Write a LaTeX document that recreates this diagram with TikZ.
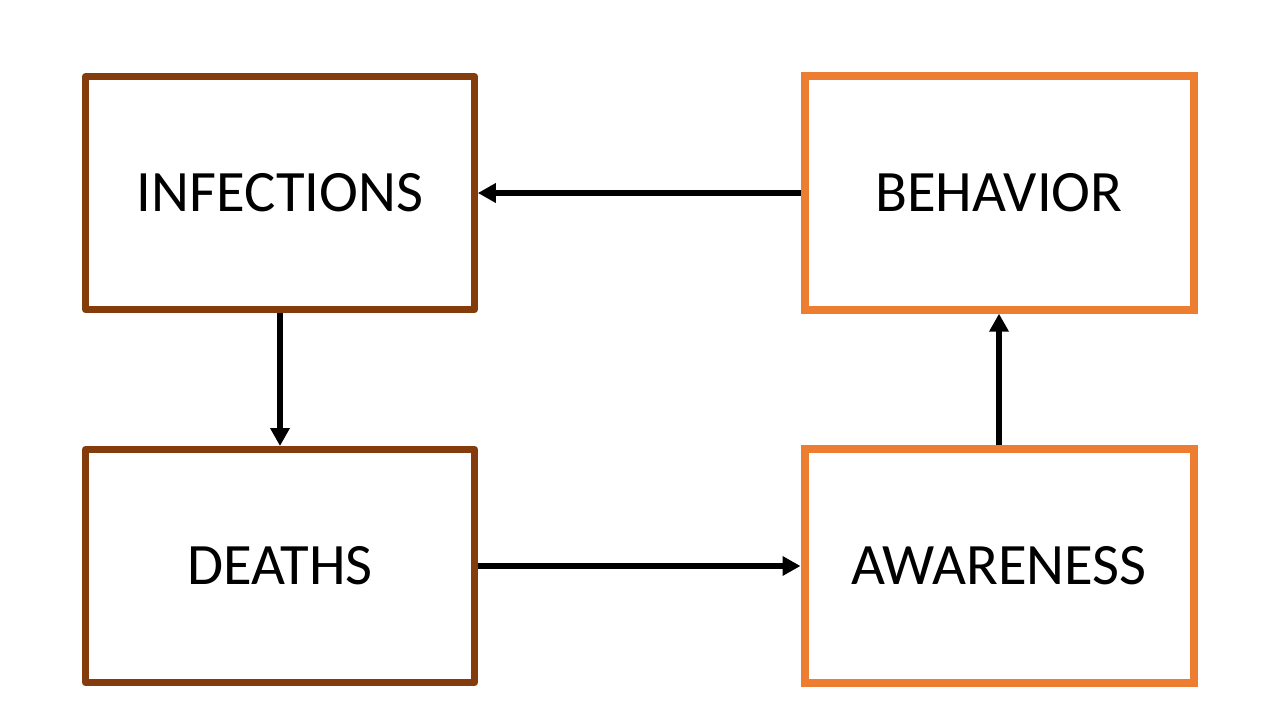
\documentclass[tikz,border=0pt]{standalone}
\usepackage{fontspec}
\setmainfont{Carlito}
\usetikzlibrary{arrows.meta}
\definecolor{darkbrown}{HTML}{843C0C}
\definecolor{lightorange}{HTML}{ED7D31}
\begin{document}
\begin{tikzpicture}[x=0.75pt,y=-0.75pt,
  box/.style={draw, fill=white, minimum width=291.75pt, minimum height=175pt,
    inner sep=0pt, font=\fontsize{44}{52}\selectfont},
  brownbox/.style={box, draw=darkbrown, line width=5pt, line join=round},
  orangebox/.style={box, draw=lightorange, line width=6pt, line join=miter},
  link/.style={draw=black, line width=4pt, -{Triangle[length=13.5pt,width=14pt]}}]
\useasboundingbox[fill=white] (0,0) rectangle (1280,720);
\node[brownbox] (inf) at (280,193) {\raisebox{-2pt}{INFECTIONS}};
\node[orangebox] (beh) at (999,193) {\raisebox{-2pt}{BEHAVIOR}};
\node[brownbox] (dea) at (280,566) {\raisebox{-2pt}{DEATHS}};
\node[orangebox] (awa) at (999,566) {\raisebox{-2pt}{AWARENESS}};
\draw[link] (beh.west) -- (inf.east);
\draw[link] (inf.south) -- (dea.north);
\draw[link] (dea.east) -- (awa.west);
\draw[link] (awa.north) -- (beh.south);
\end{tikzpicture}
\end{document}
